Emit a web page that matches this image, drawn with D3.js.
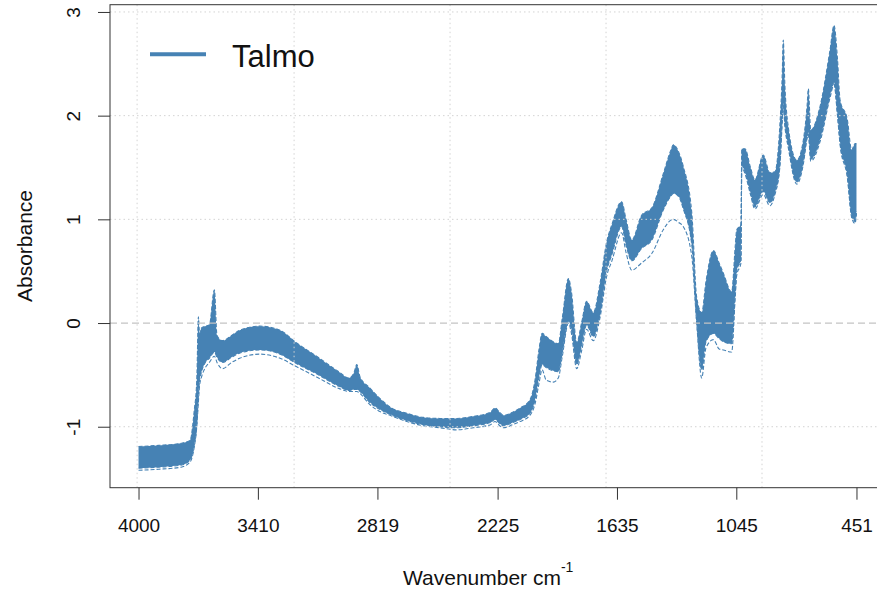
<!DOCTYPE html>
<html>
<head>
<meta charset="utf-8">
<script src="https://cdn.jsdelivr.net/npm/d3@7"></script>
<style>
  body { margin: 0; background: white; }
  #my_dataviz { width: 877px; height: 593px; overflow: hidden; }
  text { font-family: "Liberation Sans", Arial, sans-serif; fill: #111; }
</style>
</head>
<body>
<div id="my_dataviz"></div>
<script>
// spectra: upper / lower edge of the sample band
// plus the lowest single spectrum, all on the same wavenumber points
var wavenumbers = [4000, 3900, 3790, 3745, 3725, 3712, 3704, 3698, 3690, 3670, 3650, 3625, 3612, 3585, 3540, 3500, 3400, 3300, 3220, 3120, 3010, 2960, 2935, 2921, 2905, 2860, 2800, 2757, 2674, 2592, 2510, 2427, 2345, 2260, 2238, 2215, 2197, 2150, 2114, 2065, 2040, 2020, 2005, 1985, 1950, 1925, 1905, 1875, 1860, 1834, 1810, 1785, 1752, 1719, 1686, 1660, 1612, 1590, 1562, 1513, 1463, 1406, 1370, 1356, 1330, 1307, 1265, 1241, 1216, 1195, 1158, 1130, 1109, 1068, 1050, 1043, 1022, 1018, 1002, 975, 953, 912, 879, 854, 830, 818, 813, 805, 788, 746, 714, 695, 689, 677, 631, 582, 562, 545, 532, 496, 475, 458, 451];

var bandUpper = [-1.19, -1.18, -1.16, -1.13, -0.85, -0.55, 0.06, -0.10, -0.05, -0.03, -0.02, 0.32, -0.12, -0.17, -0.12, -0.07, -0.03, -0.07, -0.19, -0.32, -0.47, -0.53, -0.48, -0.40, -0.52, -0.62, -0.74, -0.81, -0.87, -0.91, -0.92, -0.92, -0.90, -0.86, -0.82, -0.86, -0.89, -0.86, -0.82, -0.74, -0.55, -0.25, -0.10, -0.13, -0.18, -0.20, 0.05, 0.43, 0.30, -0.19, 0.00, 0.21, 0.10, 0.38, 0.78, 0.95, 1.17, 1.00, 0.80, 1.04, 1.11, 1.44, 1.66, 1.72, 1.65, 1.51, 1.06, 0.25, 0.10, 0.40, 0.70, 0.58, 0.48, 0.30, 0.75, 0.90, 0.95, 1.68, 1.68, 1.50, 1.38, 1.62, 1.45, 1.46, 1.90, 2.40, 2.73, 2.30, 1.89, 1.57, 1.76, 2.10, 2.26, 1.86, 2.09, 2.63, 2.87, 2.55, 2.15, 1.96, 1.67, 1.73, 1.73];

var bandLower = [-1.40, -1.39, -1.37, -1.32, -1.18, -0.98, -0.70, -0.55, -0.48, -0.38, -0.34, -0.28, -0.33, -0.38, -0.33, -0.29, -0.26, -0.30, -0.39, -0.49, -0.61, -0.65, -0.64, -0.64, -0.66, -0.76, -0.84, -0.88, -0.94, -0.98, -1.00, -1.01, -0.99, -0.96, -0.93, -0.97, -0.99, -0.96, -0.93, -0.87, -0.74, -0.52, -0.40, -0.43, -0.46, -0.47, -0.28, 0.02, -0.06, -0.40, -0.22, -0.02, -0.13, 0.08, 0.50, 0.66, 0.93, 0.75, 0.60, 0.72, 0.80, 1.09, 1.22, 1.25, 1.22, 1.10, 0.75, 0.02, -0.45, -0.18, -0.10, -0.15, -0.18, -0.20, 0.30, 0.50, 0.62, 1.52, 1.46, 1.26, 1.12, 1.27, 1.16, 1.26, 1.52, 1.96, 2.12, 1.92, 1.71, 1.36, 1.55, 1.80, 1.84, 1.58, 1.77, 2.19, 2.32, 2.02, 1.74, 1.42, 1.04, 0.98, 1.08];

var lowSpectrum = [-1.42, -1.41, -1.39, -1.34, -1.20, -1.00, -0.76, -0.60, -0.53, -0.43, -0.38, -0.32, -0.38, -0.44, -0.38, -0.34, -0.30, -0.34, -0.42, -0.52, -0.63, -0.66, -0.66, -0.66, -0.68, -0.78, -0.86, -0.89, -0.95, -0.99, -1.01, -1.03, -1.01, -0.98, -0.95, -0.99, -1.01, -0.98, -0.95, -0.89, -0.78, -0.58, -0.45, -0.55, -0.57, -0.53, -0.32, 0.00, -0.10, -0.44, -0.27, -0.06, -0.17, 0.05, 0.45, 0.60, 0.87, 0.68, 0.51, 0.58, 0.67, 0.90, 0.99, 1.00, 0.97, 0.93, 0.64, 0.00, -0.53, -0.24, -0.16, -0.25, -0.26, -0.28, 0.26, 0.46, 0.58, 1.50, 1.44, 1.24, 1.10, 1.24, 1.13, 1.24, 1.50, 1.94, 2.10, 1.90, 1.69, 1.34, 1.53, 1.78, 1.82, 1.56, 1.75, 2.17, 2.30, 2.00, 1.72, 1.40, 1.02, 0.96, 1.06];

var xTicks = [4000, 3410, 2819, 2225, 1635, 1045, 451];
var yTicks = [-1, 0, 1, 2, 3];
var gridX = [4007, 3231, 2460, 1689, 918];
var gridY = [-1, 1, 2, 3];
var seriesName = "Talmo";

var lineColor = "steelblue";

// plot box (the right side runs past the window, as in the original)
var margin = { top: 4.7, left: 110 },
  width = 775,
  height = 483;

var svg = d3
  .select("#my_dataviz")
  .append("svg")
  .attr("width", 877)
  .attr("height", 593)
  .append("g")
  .attr("transform", "translate(" + margin.left + "," + margin.top + ")");

var x = d3.scaleLinear().domain([4141, 310]).range([0, width]);
var y = d3.scaleLinear().domain([-1.588, 3.07]).range([height, 0]);

var rows = wavenumbers.map(function (w, i) {
  return { wn: w, up: bandUpper[i], lo: bandLower[i], low: lowSpectrum[i] };
});

// the band of spectra
var band = d3
  .area()
  .x(function (d) { return x(d.wn); })
  .y0(function (d) { return y(d.lo); })
  .y1(function (d) { return y(d.up); })
  .curve(d3.curveMonotoneX);

svg.append("path").datum(rows).attr("d", band).attr("fill", lineColor);

function spectrumLine(key) {
  return d3
    .line()
    .x(function (d) { return x(d.wn); })
    .y(function (d) { return y(d[key]); })
    .curve(d3.curveMonotoneX);
}

["up", "lo", "low"].forEach(function (k) {
  svg
    .append("path")
    .datum(rows)
    .attr("d", spectrumLine(k))
    .attr("fill", "none")
    .attr("stroke", lineColor)
    .attr("stroke-width", 1.1)
    .attr("stroke-dasharray", "4,2");
});

// grid on top of the spectra
svg
  .selectAll(".gridx")
  .data(gridX)
  .enter()
  .append("line")
  .attr("x1", function (d) { return x(d); })
  .attr("x2", function (d) { return x(d); })
  .attr("y1", 0)
  .attr("y2", height)
  .attr("stroke", "#d3d3d3")
  .attr("stroke-dasharray", "1.5,3");

svg
  .selectAll(".gridy")
  .data(gridY)
  .enter()
  .append("line")
  .attr("x1", 0)
  .attr("x2", width)
  .attr("y1", function (d) { return y(d); })
  .attr("y2", function (d) { return y(d); })
  .attr("stroke", "#d3d3d3")
  .attr("stroke-dasharray", "1.5,3");

// zero line
svg
  .append("line")
  .attr("x1", 0)
  .attr("x2", width)
  .attr("y1", y(0))
  .attr("y2", y(0))
  .attr("stroke", "#c4c4c4")
  .attr("stroke-width", 1.3)
  .attr("stroke-dasharray", "7,4");

// box
svg
  .append("rect")
  .attr("width", width)
  .attr("height", height)
  .attr("fill", "none")
  .attr("stroke", "#333");

// x axis
var xAxis = svg
  .append("g")
  .attr("transform", "translate(0," + height + ")")
  .call(d3.axisBottom(x).tickValues(xTicks).tickSize(12).tickPadding(19).tickFormat(function (d) { return String(d); }));
xAxis.select(".domain").remove();
xAxis.selectAll("line").attr("stroke", "#333");
xAxis.selectAll("text").style("font-size", "19px").attr("fill", "#111");

// y axis, labels turned like R does
var yAxis = svg
  .append("g")
  .call(d3.axisLeft(y).tickValues(yTicks).tickSize(12).tickFormat(function (d) { return String(d); }));
yAxis.select(".domain").remove();
yAxis.selectAll("line").attr("stroke", "#333");
yAxis
  .selectAll("text")
  .style("font-size", "19px")
  .attr("fill", "#111")
  .attr("text-anchor", "middle")
  .attr("transform", "rotate(-90)")
  .attr("x", 0)
  .attr("y", -30)
  .attr("dy", 0);

// axis titles
svg
  .append("text")
  .attr("transform", "translate(" + (31.7 - margin.left) + "," + (246 - margin.top) + ") rotate(-90)")
  .attr("text-anchor", "middle")
  .style("font-size", "21px")
  .text("Absorbance");

var xt = svg
  .append("text")
  .attr("x", 403 - margin.left)
  .attr("y", 585 - margin.top)
  .style("font-size", "21px")
  .text("Wavenumber cm");
xt.append("tspan").attr("dy", -13).style("font-size", "14px").text("-1");

// legend
svg
  .append("line")
  .attr("x1", 150 - margin.left)
  .attr("x2", 206 - margin.left)
  .attr("y1", 54.3 - margin.top)
  .attr("y2", 54.3 - margin.top)
  .attr("stroke", lineColor)
  .attr("stroke-width", 4);

svg
  .append("text")
  .attr("x", 232 - margin.left)
  .attr("y", 66.7 - margin.top)
  .style("font-size", "31px")
  .text(seriesName);
</script>
</body>
</html>
